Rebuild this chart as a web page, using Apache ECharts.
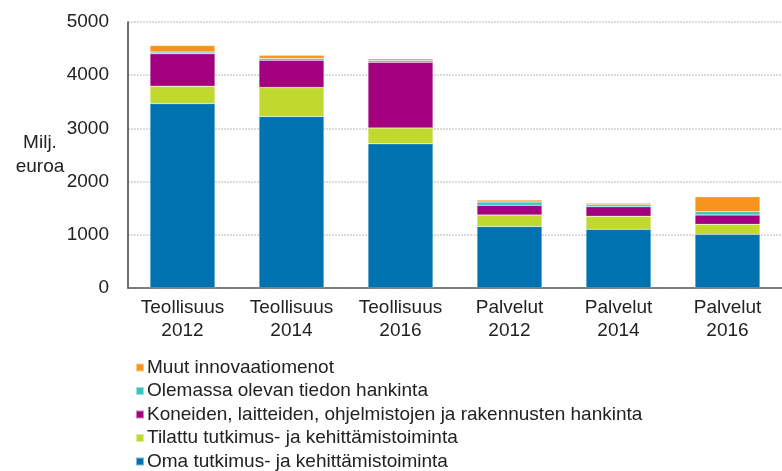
<!DOCTYPE html>
<html><head><meta charset="utf-8">
<script src="https://cdn.jsdelivr.net/npm/echarts@6/dist/echarts.min.js"></script>
<style>html,body{margin:0;padding:0;background:#fff}#c{width:782px;height:471px}</style>
</head><body><div id="c"></div>
<script>
const categories = ['Teollisuus\n2012','Teollisuus\n2014','Teollisuus\n2016','Palvelut\n2012','Palvelut\n2014','Palvelut\n2016'];
const yTicks = [0,1000,2000,3000,4000,5000];
const oma      = [3466, 3226, 2711, 1158, 1102, 1008];
const tilattu  = [326, 542, 297, 214, 245, 188];
const koneiden = [612, 515, 1237, 183, 181, 176];
const olemassa = [30, 32, 32, 62, 38, 62];
const muut     = [126, 62, 32, 38, 26, 283];
const names = ['Oma tutkimus- ja kehittämistoiminta','Tilattu tutkimus- ja kehittämistoiminta','Koneiden, laitteiden, ohjelmistojen ja rakennusten hankinta','Olemassa olevan tiedon hankinta','Muut innovaatiomenot'];
const colors = ['#0072B0','#C1D82F','#A3007F','#3CC3BD','#F7941D'];
const values = [oma, tilattu, koneiden, olemassa, muut];
const font = 'Liberation Sans, Arial, sans-serif';
const chart = echarts.init(document.getElementById('c'));
chart.setOption({
  animation:false,
  textStyle:{fontFamily:font},
  grid:{left:128, top:22, width:660, height:266},
  xAxis:{type:'category', data:categories,
    axisLine:{lineStyle:{color:'#595959', width:1.5}}, axisTick:{show:false},
    axisLabel:{color:'#222', fontSize:19, lineHeight:23, margin:8, fontFamily:font}},
  yAxis:{type:'value', min:yTicks[0], max:yTicks[yTicks.length-1], interval:1000,
    axisLine:{show:true, lineStyle:{color:'#404040', width:1.5}}, axisTick:{show:false},
    splitLine:{lineStyle:{color:'#CFCFCF', type:[2,1], width:1.5}},
    axisLabel:{color:'#222', fontSize:19, margin:19, fontFamily:font, formatter:v=>String(v)}},
  legend:{orient:'vertical', left:135, top:358, height:140, padding:0, itemWidth:8, itemHeight:8, itemGap:4.5,
    icon:'rect', textStyle:{fontSize:19, lineHeight:19, color:'#222', fontFamily:font, padding:[0,0,0,-2]},
    data:[names[4],names[3],names[2],names[1],names[0]]},
  graphic:[{type:'text', x:40, y:131, style:{text:'Milj.\neuroa', font:'19px '+font, fill:'#222', align:'center', verticalAlign:'top', lineHeight:24}}],
  series: names.map((n,i)=>({name:n, type:'bar', stack:'s', barWidth:65, data:values[i],
    itemStyle:{color:colors[i], borderColor:'rgba(255,255,255,0.5)', borderWidth:0.5}}))
});
</script></body></html>
